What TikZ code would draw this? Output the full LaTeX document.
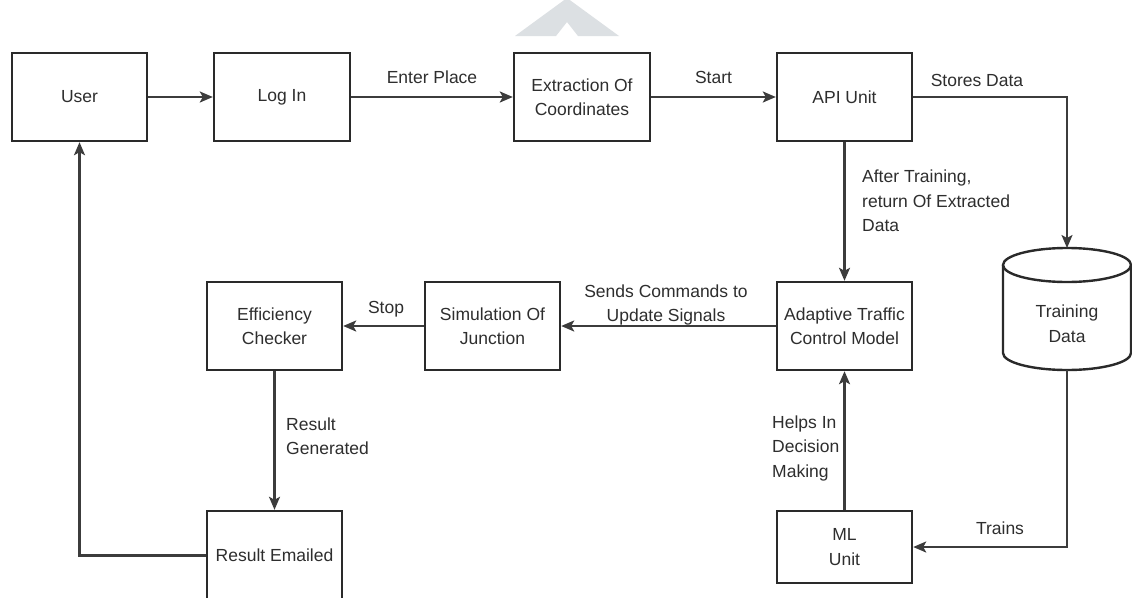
\documentclass[tikz,border=0pt]{standalone}
\usepackage{fontspec}
\setmainfont{Liberation Sans}
\usetikzlibrary{arrows.meta}
\definecolor{ln}{HTML}{3C3C3C}
\definecolor{bx}{HTML}{2A2A2A}
\definecolor{tx}{HTML}{2E2E2E}
\definecolor{wm}{RGB}{220,224,227}
\begin{document}
\begin{tikzpicture}[x=1pt,y=-1pt,
  box/.style={draw=bx,line width=2.4pt,minimum width=135pt,minimum height=88pt,inner sep=0pt,align=center,text=tx,font=\fontsize{17.5}{24.5}\selectfont},
  lbl/.style={text=tx,font=\fontsize{17.5}{24.5}\selectfont,inner sep=0pt},
  conn/.style={draw=ln,line width=2.2pt,-{Stealth[length=13pt,width=11pt,inset=3pt]}},
  dbline/.style={draw=bx,line width=2.4pt}]
\useasboundingbox (0,0) rectangle (1132,597);
\fill[white] (0,0) rectangle (1132,597);
% watermark
\fill[wm] (567,-2) -- (619,36) -- (578,36) -- (567,22) -- (556,36) -- (515,36) -- cycle;
% boxes
\node[box] (user)  at (79.5,97)  {User};
\node[box,minimum width=136pt] (login) at (282,97)  {Log In};
\node[box,minimum width=136pt] (extr)  at (582,97)  {Extraction Of\\Coordinates};
\node[box] (api)   at (844.5,97) {API Unit};
\node[box] (atc)   at (844.5,326) {Adaptive Traffic\\Control Model};
\node[box] (sim)   at (492.5,326) {Simulation Of\\Junction};
\node[box] (eff)   at (274.5,326) {Efficiency\\Checker};
\node[box,minimum height=89pt] (res) at (274.5,555.5) {Result Emailed};
\node[box,minimum height=72pt] (ml)  at (844.5,547) {ML\\Unit};
% database cylinder
\filldraw[dbline,fill=white] (1003,265) -- (1003,353) arc[start angle=180,end angle=360,x radius=64pt,y radius=17pt] -- (1131,265);
\draw[dbline] (1067,265) ellipse [x radius=64pt, y radius=17pt];
\node[lbl,align=center] (db) at (1067,323.5) {Training\\Data};
\coordinate (dbtop) at (1067,248);
\coordinate (dbbot) at (1067,370);
% connectors
\draw[conn] (user) -- (login);
\draw[conn] (login) -- node[lbl,above=12pt] (l1) {Enter Place} (extr);
\draw[conn] (extr) -- node[lbl,above=12pt] (l2) {Start} (api);
\draw[conn] (api.east) -- (api.east -| dbtop) -- (dbtop);
\node[lbl] (l3) at (977,80) {Stores Data};
\draw[conn] (api) -- (atc);
\node[lbl,align=left,anchor=west] (l4) at (862,201) {After Training,\\return Of Extracted\\Data};
\draw[conn] (atc) -- (sim);
\node[lbl,align=center] (l5) at (666,305) {Sends Commands to\\Update Signals};
\draw[conn] (sim) -- (eff);
\node[lbl] (l6) at (386,309) {Stop};
\draw[conn] (eff) -- (res);
\node[lbl,align=left,anchor=west] (l7) at (286,436) {Result\\Generated};
\draw[conn] (res.west) -- (res.west -| user.south) -- (user.south);
\draw[conn] (ml) -- (atc);
\node[lbl,align=left,anchor=west] (l8) at (772,448) {Helps In\\Decision\\Making};
\draw[conn] (dbbot) -- (dbbot |- ml.east) -- (ml.east);
\node[lbl] (l9) at (1000,528) {Trains};
\end{tikzpicture}
\end{document}
